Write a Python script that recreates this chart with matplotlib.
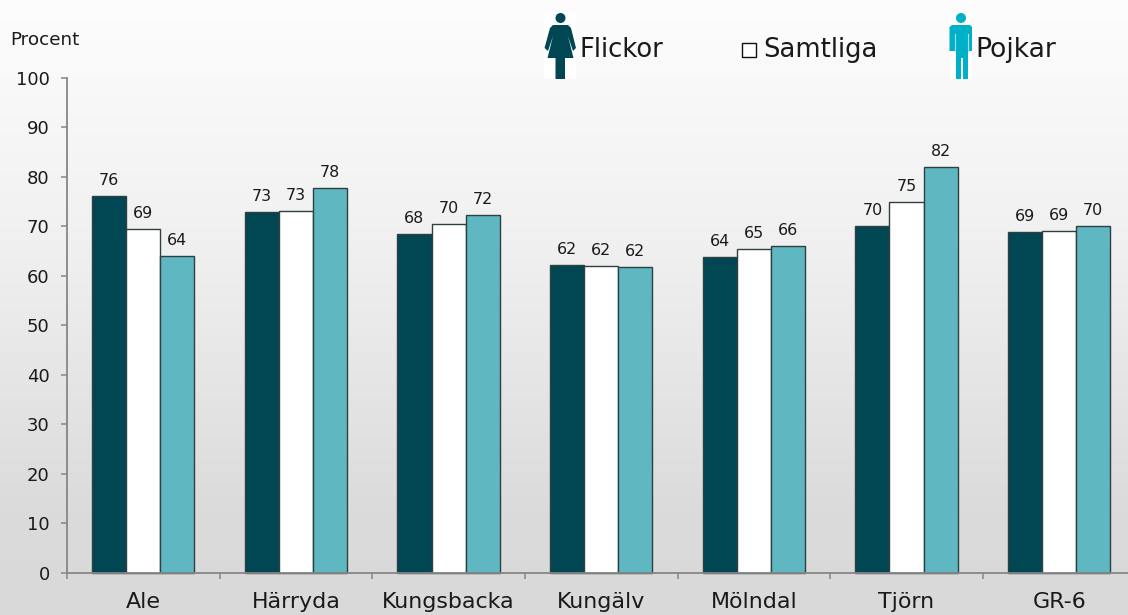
import numpy as np
import matplotlib
matplotlib.use("Agg")
import matplotlib.pyplot as plt
from matplotlib.patches import Rectangle, Circle, Polygon

categories = ["Ale", "Härryda", "Kungsbacka", "Kungälv", "Mölndal", "Tjörn", "GR-6"]
flickor = [76.2, 72.9, 68.4, 62.2, 63.8, 70.1, 68.9]
samtliga = [69.5, 73.2, 70.5, 62.0, 65.4, 75.0, 69.0]
pojkar = [64.0, 77.7, 72.2, 61.8, 66.0, 82.0, 70.0]
flickor_labels = ["76", "73", "68", "62", "64", "70", "69"]
samtliga_labels = ["69", "73", "70", "62", "65", "75", "69"]
pojkar_labels = ["64", "78", "72", "62", "66", "82", "70"]
yticks = list(range(0, 101, 10))

W, H = 1128, 615
DARK, LIGHT, ICON = "#004753", "#5FB7C2", "#00B0C8"
TXT = "#1a1a1a"
GREY = "#868686"
plt.rcParams["font.family"] = ["DejaVu Sans"]

fig = plt.figure(figsize=(W / 100, H / 100), dpi=100)

# background gradient
bg = fig.add_axes([0, 0, 1, 1], zorder=0)
grad = np.linspace(0, 1, 256).reshape(-1, 1)
cmap = matplotlib.colors.LinearSegmentedColormap.from_list(
    "bg", [(0, "#FDFDFD"), (0.4, "#F0F0F0"), (0.83, "#DBDBDB"), (1, "#D9D9D9")])
bg.imshow(grad, aspect="auto", cmap=cmap, extent=[0, W, H, 0], vmin=0, vmax=1)
bg.set_xlim(0, W)
bg.set_ylim(H, 0)
bg.axis("off")

# plot axes: extends slightly past the right edge as in the reference
left, right, top, bottom = 67, 1135.5, 78, 572.5
ax = fig.add_axes([left / W, 1 - bottom / H, (right - left) / W, (bottom - top) / H], zorder=1)
ax.patch.set_alpha(0)
ax.set_xlim(0, len(categories))
ax.set_ylim(0, 100)

x = np.arange(len(categories)) + 0.5
bw = 0.2235
series = [(flickor, flickor_labels, DARK, -bw), (samtliga, samtliga_labels, "white", 0), (pojkar, pojkar_labels, LIGHT, bw)]
for vals, labs, col, off in series:
    ax.bar(x + off, vals, width=bw, color=col, edgecolor="#2f3f42", linewidth=1.0, clip_on=False)
    for xi, v, l in zip(x + off, vals, labs):
        ax.annotate(l, (xi, v), xytext=(0, 8), textcoords="offset pixels", ha="center", va="bottom",
                    fontsize=11.4, color=TXT)

for s in ("top", "right"):
    ax.spines[s].set_visible(False)
for s in ("left", "bottom"):
    ax.spines[s].set_color(GREY)
    ax.spines[s].set_linewidth(1.3)
ax.set_yticks(yticks)
ax.set_xticks(np.arange(len(categories) + 1))
ax.set_xticklabels([""] * (len(categories) + 1))
ax.tick_params(axis="y", length=4.5, width=1.1, color=GREY, labelsize=13, labelcolor=TXT, pad=8)
ax.tick_params(axis="x", length=4.5, width=1.1, color=GREY)
for xi, c in zip(x, categories):
    ax.annotate(c, (xi, 0), xytext=(0, -30), textcoords="offset pixels", ha="center", va="center",
                fontsize=15.9, color=TXT)

# overlay in pixel coordinates: unit label and legend
ov = fig.add_axes([0, 0, 1, 1], zorder=2)
ov.set_xlim(0, W)
ov.set_ylim(H, 0)
ov.axis("off")
ov.text(10, 40, "Procent", fontsize=13.2, color=TXT, va="center", ha="left")
ov.text(580, 50, "Flickor", fontsize=18.6, color=TXT, va="center", ha="left")
ov.text(763, 50, "Samtliga", fontsize=18.6, color=TXT, va="center", ha="left")
ov.text(975, 50, "Pojkar", fontsize=19.2, color=TXT, va="center", ha="left")
ov.add_patch(Rectangle((742, 43), 14, 14, fc="white", ec="#111111", lw=1.0))

# female pictogram
ov.add_patch(Rectangle((544, 13), 32, 66, fc="white", ec="none"))
ov.add_patch(Circle((560.5, 18), 5, fc=DARK, ec="none"))
ov.add_patch(Polygon([(553, 25), (568, 25), (571, 28), (576, 48), (573, 51), (568, 36), (573.5, 58),
                      (565, 58), (565, 79), (555.5, 79), (555.5, 58), (547.5, 58), (553, 36), (548, 51),
                      (544.5, 48), (550, 28)], fc=DARK, ec="none"))
# male pictogram
ov.add_patch(Rectangle((949.5, 13), 22.5, 66, fc="white", ec="none"))
ov.add_patch(Circle((961, 18), 5, fc=ICON, ec="none"))
ov.add_patch(Polygon([(952, 25), (970, 25), (972, 27), (972, 51), (949.5, 51), (949.5, 27)], fc=ICON, ec="none"))
ov.add_patch(Rectangle((955.5, 28), 12.5, 30, fc=ICON, ec="none"))
ov.add_patch(Rectangle((956, 56), 4.5, 23, fc=ICON, ec="none"))
ov.add_patch(Rectangle((962.5, 56), 5, 23, fc=ICON, ec="none"))
ov.plot([955, 955], [34, 51], color="#a8e0e8", lw=0.8)
ov.plot([967.5, 967.5], [34, 51], color="#a8e0e8", lw=0.8)

fig.savefig("out.png", dpi=100)
